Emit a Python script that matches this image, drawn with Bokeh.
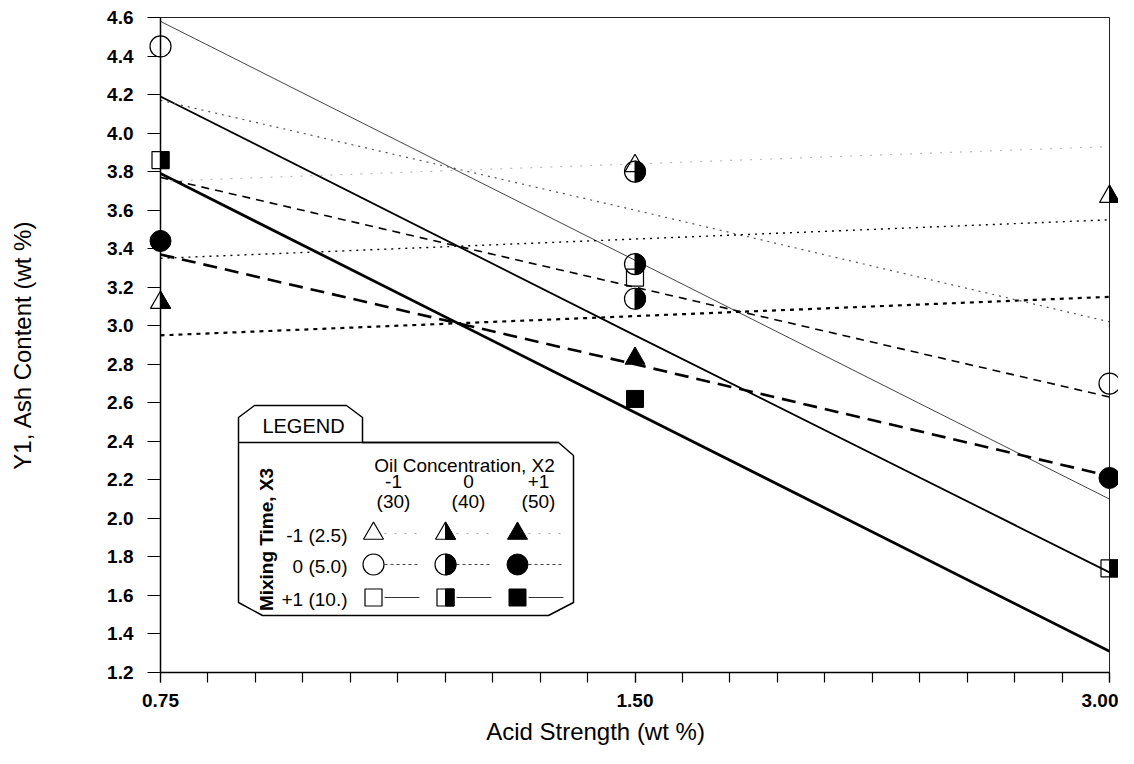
import numpy as np
from bokeh.plotting import figure
from bokeh.models import FixedTicker, Range1d, NumeralTickFormatter
from bokeh.core.properties import value
from bokeh.embed import file_html
from bokeh.resources import INLINE

# ---------------- data ----------------
acid_strength = [0.75, 1.50, 3.00]            # wt %, X1 levels -1, 0, +1
acid_tick_labels = ["0.75", "1.50", "3.00"]
y_tick_values = [1.2, 1.4, 1.6, 1.8, 2.0, 2.2, 2.4, 2.6, 2.8, 3.0,
                 3.2, 3.4, 3.6, 3.8, 4.0, 4.2, 4.4, 4.6]

# fitted lines, one per (oil concentration X2, mixing time X3), ash at the 3 acid strengths
line_x2 = [-1, 0, 1, -1, 0, 1, -1, 0, 1]
line_x3 = [1, 1, 1, 0, 0, 0, -1, -1, -1]
line_ash_lo = [4.58, 4.19, 3.79, 4.17, 3.77, 3.37, 3.75, 3.35, 2.95]
line_ash_mid = [3.34, 2.95, 2.55, 3.60, 3.20, 2.80, 3.84, 3.45, 3.05]
line_ash_hi = [2.10, 1.72, 1.31, 3.02, 2.63, 2.22, 3.93, 3.55, 3.15]

# observed runs
obs_acid = [0.75, 0.75, 0.75, 0.75, 3.00, 3.00, 3.00, 3.00,
            1.50, 1.50, 1.50, 1.50, 1.50, 1.50, 1.50]
obs_x2 = [-1, 1, 0, 0, -1, 1, 0, 0, -1, 1, -1, 1, 0, 0, 0]
obs_x3 = [0, 0, -1, 1, 0, 0, -1, 1, -1, -1, 1, 1, 0, 0, 0]
obs_ash = [4.45, 3.44, 3.12, 3.86, 2.70, 2.21, 3.67, 1.74,
           3.83, 2.83, 3.25, 2.62, 3.80, 3.32, 3.14]

legend_x2_levels = [-1, 0, 1]
legend_x2_labels = ["-1", "0", "+1"]
legend_x2_values = ["(30)", "(40)", "(50)"]
legend_x3_levels = [-1, 0, 1]
legend_x3_labels = ["-1 (2.5)", "0 (5.0)", "+1 (10.)"]
x_title = "Acid Strength (wt %)"
y_title = "Y1, Ash Content (wt %)"

# ---------------- layout ----------------
W, H = 1118, 748
BL, BR, BT, BB = 160, 9, 17, 76
FW, FH = W - BL - BR, H - BT - BB
Y0, Y1 = 1.2, 4.6
X0, X1 = acid_strength[0], acid_strength[-1]
PX_PER_DOUBLING = FW / np.log2(X1 / X0)
KY = (Y1 - Y0) / FH
FONT_NAME = "Liberation Sans"
FONT = value(FONT_NAME)
TXT = 7  # baseline correction for text glyphs (px)


def xshift(x, px):
    return x * 2 ** (px / PX_PER_DOUBLING)


def yshift(y, px_up):
    return y + px_up * KY


def sx(px):  # canvas x pixel -> data
    return X0 * 2 ** ((px - BL) / PX_PER_DOUBLING)


def sy(py):  # canvas y pixel -> data
    return Y1 - (py - BT) * KY


p = figure(width=W, height=H, x_axis_type="log",
           x_range=Range1d(X0, X1), y_range=Range1d(Y0, Y1),
           output_backend="svg", toolbar_location=None,
           min_border_left=BL, min_border_right=BR,
           min_border_top=BT, min_border_bottom=BB)
p.grid.visible = False
p.outline_line_color = "#222222"
p.outline_line_width = 1
p.background_fill_color = "white"
p.border_fill_color = "white"

# x axis
minor = [X0 * 2 ** (k / 10) for k in range(0, 21)]
p.xaxis.ticker = FixedTicker(ticks=acid_strength, minor_ticks=minor)
p.xaxis.major_label_overrides = {a: l for a, l in zip(acid_strength, acid_tick_labels)}
p.xaxis.major_tick_out = 10
p.xaxis.major_tick_in = 0
p.xaxis.minor_tick_out = 10
p.xaxis.minor_tick_in = 0
p.xaxis.major_tick_line_width = 1.2
p.xaxis.minor_tick_line_width = 1.2
p.xaxis.axis_line_width = 1.5
p.xaxis.major_label_standoff = 11
p.xaxis.major_label_text_font = FONT_NAME
p.xaxis.major_label_text_font_style = "bold"
p.xaxis.major_label_text_font_size = "19px"
p.xaxis.major_label_text_color = "black"

# y axis
p.yaxis.ticker = FixedTicker(ticks=y_tick_values, minor_ticks=[])
p.yaxis.formatter = NumeralTickFormatter(format="0.0")
p.yaxis.major_tick_out = 13
p.yaxis.major_tick_in = 0
p.yaxis.minor_tick_out = 0
p.yaxis.minor_tick_in = 0
p.yaxis.major_tick_line_width = 1.2
p.yaxis.axis_line_width = 1.5
p.yaxis.major_label_standoff = 14
p.yaxis.major_label_text_font = FONT_NAME
p.yaxis.major_label_text_font_style = "bold"
p.yaxis.major_label_text_font_size = "19px"
p.yaxis.major_label_text_color = "black"
p.yaxis.axis_label = y_title
p.yaxis.axis_label_text_font = FONT_NAME
p.yaxis.axis_label_text_font_style = "normal"
p.yaxis.axis_label_text_font_size = "24px"
p.yaxis.axis_label_text_color = "black"
p.yaxis.axis_label_standoff = 68

# x-axis title placed below the tick labels
p.text([sx(595)], [sy(738 - TXT)], text=[x_title], text_font=FONT, text_font_size="24px",
       text_align="center", text_baseline="alphabetic", level="overlay")

# ---------------- fitted lines ----------------
def line_style(x2, x3):
    if x3 == 1:
        return {-1: ("#444444", 1.0, "solid"), 0: ("black", 1.8, "solid"),
                1: ("black", 2.8, "solid")}[x2]
    if x3 == 0:
        return {-1: ("#555555", 1.2, "2 5"), 0: ("black", 1.6, "8 6"),
                1: ("black", 2.6, "14 8")}[x2]
    return {-1: ("#bbbbbb", 1.2, "2 8"), 0: ("black", 1.4, "2 5"),
            1: ("black", 2.2, "4 5")}[x2]


for i in range(len(line_x2)):
    c, w, d = line_style(line_x2[i], line_x3[i])
    p.line(acid_strength, [line_ash_lo[i], line_ash_mid[i], line_ash_hi[i]],
           line_color=c, line_width=w, line_dash=d)

# ---------------- markers ----------------
CIRC = 21
SQ = 17
TR = 10.0
TRH = TR * np.sqrt(3)

mk = {k: ([], []) for k in ["c_out", "c_fill", "c_half", "s_out", "s_fill", "s_half"]}
tri = {k: ([], []) for k in ["out", "fill", "half"]}


def add_marker(x, y, x2, x3):
    if x3 == 0:
        if x2 == 1:
            mk["c_fill"][0].append(x); mk["c_fill"][1].append(y)
        else:
            mk["c_out"][0].append(x); mk["c_out"][1].append(y)
            if x2 == 0:
                mk["c_half"][0].append(x); mk["c_half"][1].append(y)
    elif x3 == 1:
        if x2 == 1:
            mk["s_fill"][0].append(x); mk["s_fill"][1].append(y)
        else:
            mk["s_out"][0].append(x); mk["s_out"][1].append(y)
            if x2 == 0:
                mk["s_half"][0].append(xshift(x, SQ / 4)); mk["s_half"][1].append(y)
    else:
        full_x = [x, xshift(x, -TR), xshift(x, TR)]
        full_y = [yshift(y, 2 * TRH / 3), yshift(y, -TRH / 3), yshift(y, -TRH / 3)]
        if x2 == 1:
            tri["fill"][0].append(full_x); tri["fill"][1].append(full_y)
        else:
            tri["out"][0].append(full_x); tri["out"][1].append(full_y)
            if x2 == 0:
                tri["half"][0].append([x, x, xshift(x, TR)])
                tri["half"][1].append([yshift(y, 2 * TRH / 3), yshift(y, -TRH / 3),
                                       yshift(y, -TRH / 3)])


for a, x2, x3, y in zip(obs_acid, obs_x2, obs_x3, obs_ash):
    add_marker(a, y, x2, x3)

# legend outline (pixel shape converted to data space)
leg_px = [(238, 602), (238, 417), (254, 405), (346, 405), (362, 417), (362, 442),
          (558, 442), (573, 455), (573, 602), (548, 615), (262, 615)]
p.patch([sx(a) for a, b in leg_px], [sy(b) for a, b in leg_px],
        fill_color="white", line_color="black", line_width=1.5)
p.line([sx(238), sx(558)], [sy(442), sy(442)], line_color="black", line_width=1.5)

# legend symbols
col_px = [373, 445, 517]
row_px = [533, 564, 597]
for r, x3 in enumerate(legend_x3_levels):
    yy = sy(row_px[r])
    for c, x2 in enumerate(legend_x2_levels):
        add_marker(sx(col_px[c]), yy, x2, x3)
        if x3 == -1:
            st = ("#aaaaaa", 1.2, "2 8")
        elif x3 == 0:
            st = ("#444444", 1.0, "3 3")
        else:
            st = ("#333333", 1.0, "solid")
        p.line([sx(col_px[c] + 11), sx(col_px[c] + 46)], [yy, yy],
               line_color=st[0], line_width=st[1], line_dash=st[2], level="overlay")

p.scatter(mk["c_out"][0], mk["c_out"][1], marker="circle", size=CIRC,
          fill_alpha=0, line_color="black", line_width=1.2, level="overlay")
p.wedge(mk["c_half"][0], mk["c_half"][1], radius=CIRC / 2, radius_units="screen",
        start_angle=-np.pi / 2, end_angle=np.pi / 2, fill_color="black",
        line_color="black", line_width=1, level="overlay")
p.scatter(mk["c_fill"][0], mk["c_fill"][1], marker="circle", size=CIRC,
          fill_color="black", line_color="black", line_width=1, level="overlay")
p.rect(mk["s_out"][0], mk["s_out"][1], width=SQ, height=SQ, width_units="screen",
       height_units="screen", fill_alpha=0, line_color="black", line_width=1.2,
       level="overlay")
p.rect(mk["s_half"][0], mk["s_half"][1], width=SQ / 2, height=SQ, width_units="screen",
       height_units="screen", fill_color="black", line_color="black", line_width=1,
       level="overlay")
p.rect(mk["s_fill"][0], mk["s_fill"][1], width=SQ, height=SQ, width_units="screen",
       height_units="screen", fill_color="black", line_color="black", line_width=1,
       level="overlay")
p.patches(tri["out"][0], tri["out"][1], fill_alpha=0, line_color="black",
          line_width=1.2, level="overlay")
p.patches(tri["half"][0], tri["half"][1], fill_color="black", line_color="black",
          line_width=1, level="overlay")
p.patches(tri["fill"][0], tri["fill"][1], fill_color="black", line_color="black",
          line_width=1, level="overlay")

# legend texts (target baselines in pixels, corrected by TXT)
p.text([sx(303)], [sy(432 - TXT)], text=["LEGEND"], text_font=FONT, text_font_size="20px",
       text_align="center", text_baseline="alphabetic", level="overlay")
p.text([sx(464)], [sy(472 - TXT)], text=["Oil Concentration, X2"], text_font=FONT,
       text_font_size="19px", text_align="center", text_baseline="alphabetic",
       level="overlay")
hdr_px = [393, 468, 538]
p.text([sx(v) for v in hdr_px], [sy(488 - TXT)] * 3, text=legend_x2_labels, text_font=FONT,
       text_font_size="19px", text_align="center", text_baseline="alphabetic",
       level="overlay")
p.text([sx(v) for v in hdr_px], [sy(508 - TXT)] * 3, text=legend_x2_values, text_font=FONT,
       text_font_size="19px", text_align="center", text_baseline="alphabetic",
       level="overlay")
p.text([sx(347)] * 3, [sy(v + 9 - TXT) for v in row_px], text=legend_x3_labels,
       text_font=FONT, text_font_size="19px", text_align="right",
       text_baseline="alphabetic", level="overlay")
p.text([sx(273 - TXT)], [sy(539)], text=["Mixing Time, X3"], text_font=FONT,
       text_font_size="19px", text_font_style="bold", text_align="center",
       text_baseline="alphabetic", angle=np.pi / 2, level="overlay")

open("out.html", "w").write(file_html(p, INLINE))
